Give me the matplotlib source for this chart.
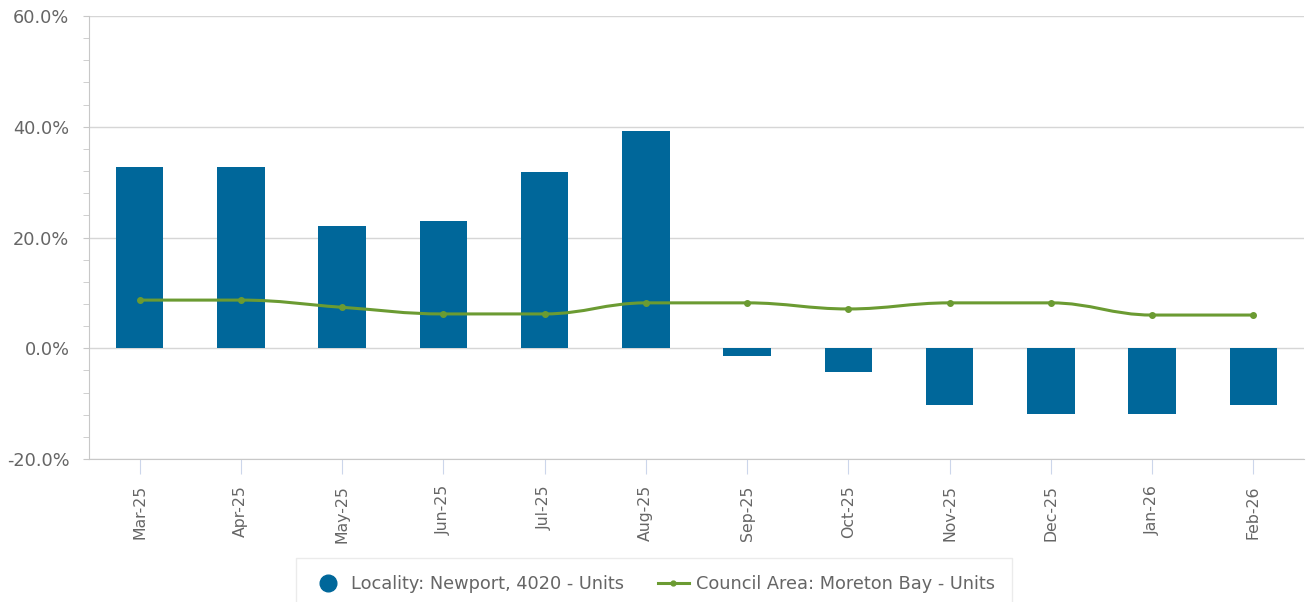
import matplotlib
matplotlib.use("Agg")
import matplotlib.pyplot as plt
import numpy as np
from matplotlib.path import Path
from matplotlib.patches import PathPatch
from matplotlib.lines import Line2D
from matplotlib.ticker import MultipleLocator, FuncFormatter

# data
months = ["Mar-25", "Apr-25", "May-25", "Jun-25", "Jul-25", "Aug-25",
          "Sep-25", "Oct-25", "Nov-25", "Dec-25", "Jan-26", "Feb-26"]
locality = [32.8, 32.8, 22.1, 23.0, 31.9, 39.3, -1.4, -4.3, -10.3, -11.8, -11.8, -10.3]
council = [8.7, 8.7, 7.4, 6.2, 6.2, 8.2, 8.2, 7.1, 8.2, 8.2, 6.0, 6.0]

bar_color = "#00679a"
line_color = "#6b9b32"
text_color = "#666666"
grid_color = "#d6d6d6"


def spline_path(xs, ys, smoothing=1.5):
    # highcharts style spline built from the data points
    n = len(xs)
    lc = [None] * n
    rc = [None] * n
    for i in range(1, n - 1):
        x, y = xs[i], ys[i]
        lx, ly = xs[i - 1], ys[i - 1]
        nx, ny = xs[i + 1], ys[i + 1]
        d = smoothing + 1
        lcx, lcy = (smoothing * x + lx) / d, (smoothing * y + ly) / d
        rcx, rcy = (smoothing * x + nx) / d, (smoothing * y + ny) / d
        corr = ((rcy - lcy) * (rcx - x)) / (rcx - lcx) + y - rcy
        lcy += corr
        rcy += corr
        if lcy > ly and lcy > y:
            lcy = max(ly, y); rcy = 2 * y - lcy
        elif lcy < ly and lcy < y:
            lcy = min(ly, y); rcy = 2 * y - lcy
        if rcy > ny and rcy > y:
            rcy = max(ny, y); lcy = 2 * y - rcy
        elif rcy < ny and rcy < y:
            rcy = min(ny, y); lcy = 2 * y - rcy
        lc[i] = (lcx, lcy)
        rc[i] = (rcx, rcy)
    verts = [(xs[0], ys[0])]
    codes = [Path.MOVETO]
    for i in range(1, n):
        c1 = rc[i - 1] if rc[i - 1] else (xs[i - 1], ys[i - 1])
        c2 = lc[i] if lc[i] else (xs[i], ys[i])
        verts += [c1, c2, (xs[i], ys[i])]
        codes += [Path.CURVE4] * 3
    return Path(verts, codes)


fig = plt.figure(figsize=(13.06, 6.02), dpi=100)
ax = fig.add_axes([0.0681, 0.2375, 0.9304, 0.7359])

x = np.arange(len(months))
ax.bar(x, locality, width=0.47, color=bar_color, zorder=2)

ax.add_patch(PathPatch(spline_path(x, council), facecolor="none",
                       edgecolor=line_color, lw=2.2, zorder=3))
ax.plot(x, council, "o", color=line_color, ms=4, zorder=4)

ax.set_xlim(-0.5, 11.5)
ax.set_ylim(-20, 60)
ax.yaxis.set_major_locator(MultipleLocator(20))
ax.yaxis.set_minor_locator(MultipleLocator(4))
ax.yaxis.set_major_formatter(FuncFormatter(lambda v, p: f"{v:.1f}%"))
ax.grid(axis="y", which="major", color=grid_color, lw=1, zorder=1)

ax.set_xticks(x)
ax.set_xticklabels(months, rotation=90)

for s in ["top", "right"]:
    ax.spines[s].set_visible(False)
ax.spines["left"].set_color("#c8c8c8")
ax.spines["bottom"].set_color("#c8c8c8")

ax.tick_params(axis="y", which="both", colors="#c8c8c8", labelcolor=text_color,
               labelsize=12.8, pad=10, length=4)
ax.tick_params(axis="x", colors="#ccd6eb", labelcolor=text_color,
               labelsize=11.3, length=10.8, pad=8)

handles = [
    Line2D([], [], marker="o", ls="none", color=bar_color, ms=12),
    Line2D([], [], marker="o", color=line_color, lw=2.2, ms=3.5),
]
labels = ["Locality: Newport, 4020 - Units", "Council Area: Moreton Bay - Units"]
leg = fig.legend(handles, labels, loc="upper center", bbox_to_anchor=(0.5008, 0.073),
                 ncol=2, frameon=True, fancybox=False, fontsize=12.8,
                 labelcolor=text_color, handlelength=1.7, columnspacing=1.95,
                 borderpad=0.95, handletextpad=0.4, borderaxespad=0)
leg.get_frame().set_edgecolor("#e6e6e6")
leg.get_frame().set_linewidth(1)

fig.savefig("out.png", dpi=100)
